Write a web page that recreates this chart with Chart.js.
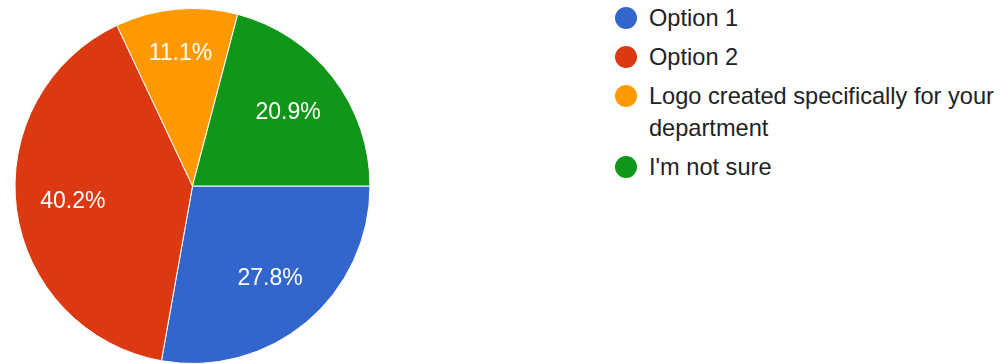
<!DOCTYPE html>
<html>
<head>
<meta charset="utf-8">
<script src="https://cdn.jsdelivr.net/npm/chart.js@4.4.0/dist/chart.umd.min.js"></script>
<style>
  html, body { margin: 0; padding: 0; background: #fff; }
  body { width: 1004px; height: 364px; position: relative; overflow: hidden; font-family: "Liberation Sans", Arial, sans-serif; }
  #wrap { position: absolute; left: 0; top: 0; width: 385px; height: 364px; }
  #legend { position: absolute; left: 615px; top: 2px; margin: 0; padding: 0; list-style: none; display: flex; flex-direction: column; gap: 7px; }
  #legend li { display: flex; align-items: flex-start; font-size: 23.6px; line-height: 32px; color: #222; }
  #legend .dot { flex: none; width: 22px; height: 22px; border-radius: 50%; margin-top: 5px; margin-right: 12px; }
  #legend .txt { width: 356px; }
</style>
</head>
<body>
<div id="wrap"><canvas id="pie"></canvas></div>
<ul id="legend"></ul>
<script>
const labels = ["Option 1", "Option 2", "Logo created specifically for your department", "I'm not sure"];
const values = [27.8, 40.2, 11.1, 20.9];
const colors = ["#3366cc", "#dc3912", "#ff9900", "#109618"];

const i = id => document.getElementById(id);

// percent labels inside each slice, small slices pushed a bit further out
const sliceLabels = {
  id: "sliceLabels",
  afterDatasetsDraw(chart) {
    const ctx = chart.ctx;
    const meta = chart.getDatasetMeta(0);
    const total = values.reduce((a, b) => a + b, 0);
    ctx.save();
    ctx.fillStyle = "#fff";
    ctx.font = '23px "Liberation Sans", Arial, sans-serif';
    ctx.textAlign = "center";
    ctx.textBaseline = "middle";
    meta.data.forEach((arc, k) => {
      const p = arc.getProps(["x", "y", "startAngle", "endAngle", "outerRadius"], true);
      const mid = (p.startAngle + p.endAngle) / 2;
      const share = values[k] / total;
      const r = p.outerRadius * (share < 0.15 ? 0.75 : 0.68);
      ctx.fillText((share * 100).toFixed(1) + "%", p.x + Math.cos(mid) * r, p.y + Math.sin(mid) * r);
    });
    ctx.restore();
  }
};

new Chart(i("pie"), {
  type: "pie",
  data: {
    labels: labels,
    datasets: [{ data: values, backgroundColor: colors, borderColor: "#fff", borderWidth: 1 }]
  },
  options: {
    responsive: true,
    maintainAspectRatio: false,
    animation: false,
    rotation: 90,
    layout: { padding: { top: 8, bottom: 0 } },
    plugins: { legend: { display: false }, tooltip: { enabled: false } }
  },
  plugins: [sliceLabels]
});

labels.forEach((l, k) => {
  const li = document.createElement("li");
  li.innerHTML = '<span class="dot" style="background:' + colors[k] + '"></span><span class="txt"></span>';
  li.querySelector(".txt").textContent = l;
  i("legend").appendChild(li);
});
</script>
</body>
</html>
